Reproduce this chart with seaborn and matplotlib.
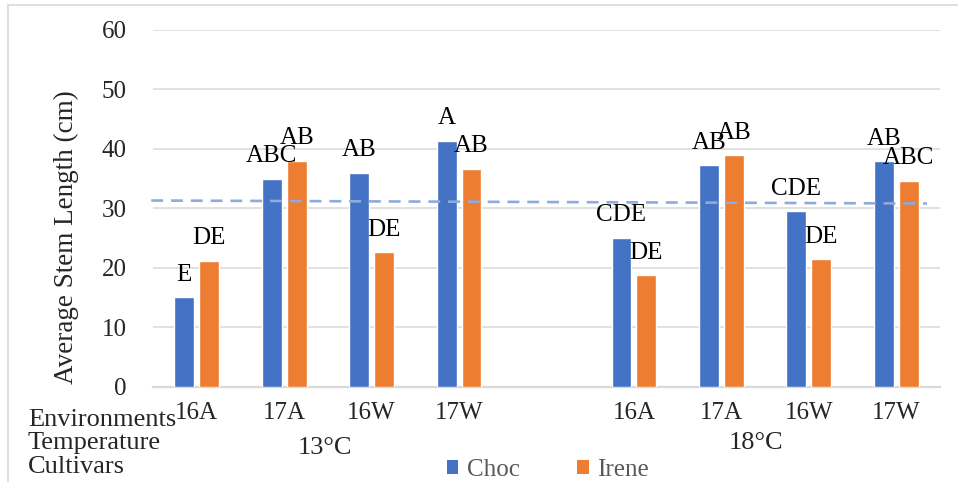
import matplotlib
matplotlib.use("Agg")
import matplotlib.pyplot as plt
from matplotlib.patches import Rectangle, Patch
import seaborn as sns
import pandas as pd

# Average stem length by temperature, environment and cultivar
temperatures = ["13°C", "18°C"]
environments = ["16A", "17A", "16W", "17W"]
cultivars = ["Choc", "Irene"]
choc_13 = [15.0, 35.0, 36.0, 41.3]
irene_13 = [21.1, 38.0, 22.6, 36.6]
choc_18 = [25.0, 37.2, 29.5, 37.9]
irene_18 = [18.7, 38.9, 21.4, 34.6]
letters_choc_13 = ["E", "ABC", "AB", "A"]
letters_irene_13 = ["DE", "AB", "DE", "AB"]
letters_choc_18 = ["CDE", "AB", "CDE", "AB"]
letters_irene_18 = ["DE", "AB", "DE", "ABC"]
trend_values = [31.3, 30.8]
y_ticks = [0, 10, 20, 30, 40, 50, 60]

BLUE = "#4472C4"
ORANGE = "#ED7D31"
GRID = "#D9D9D9"
SERIF = ["Liberation Serif", "DejaVu Serif"]

rows = []
series = {
    ("13°C", "Choc"): (choc_13, letters_choc_13),
    ("13°C", "Irene"): (irene_13, letters_irene_13),
    ("18°C", "Choc"): (choc_18, letters_choc_18),
    ("18°C", "Irene"): (irene_18, letters_irene_18),
}
for (temp, cult), (vals, lets) in series.items():
    for env, v, l in zip(environments, vals, lets):
        rows.append({"slot": f"{temp} {env}", "temp": temp, "env": env,
                     "cultivar": cult, "value": v, "letter": l})
df = pd.DataFrame(rows)

# 13°C group, one empty spacer slot, then the 18°C group
order = [f"13°C {e}" for e in environments] + [" "] + [f"18°C {e}" for e in environments]

sns.set_style("white")
plt.rcParams["font.family"] = SERIF

fig = plt.figure(figsize=(9.58, 4.82), dpi=100)
ax = fig.add_axes([153 / 958, 1 - 386.5 / 482, (940 - 153) / 958, (386.5 - 30) / 482])

sns.barplot(data=df, x="slot", y="value", hue="cultivar", order=order,
            hue_order=cultivars, palette=[BLUE, ORANGE], width=0.57, gap=0.2,
            saturation=1, errorbar=None, legend=False, ax=ax, zorder=3)

ax.set_xlim(-0.5, len(order) - 0.5)
ax.set_ylim(0, 60)
ax.set_yticks(y_ticks)
ax.set_yticklabels([str(t) for t in y_ticks], fontsize=18)
ax.yaxis.grid(True, color=GRID, lw=1.1, zorder=0)
ax.set_axisbelow(True)
for s in ["top", "right", "left"]:
    ax.spines[s].set_visible(False)
ax.spines["bottom"].set_color(GRID)
ax.spines["bottom"].set_linewidth(1.6)
ax.tick_params(axis="y", length=0, pad=19)
ax.tick_params(axis="x", length=0, pad=11)
ax.set_xticks(range(len(order)))
ax.set_xticklabels([o.split(" ")[1] if o.strip() else "" for o in order], fontsize=18)
ax.set_xlabel("")
ax.set_ylabel("")

# significance letters above every bar
lookup = {(r.slot, r.cultivar): r.letter for r in df.itertuples()}
for cult, cont in zip(cultivars, ax.containers):
    for bar in cont:
        cx = bar.get_x() + bar.get_width() / 2
        slot = order[int(round(cx))]
        letter = lookup.get((slot, cult))
        if letter:
            ax.annotate(letter, (cx, bar.get_height()), xytext=(0, 12),
                        textcoords="offset points", ha="center", va="baseline",
                        fontsize=18, color="black", zorder=5)

# dashed trend line across the plot
ax.plot([-0.52, 8.35], trend_values, color="#8FAADC", lw=1.9,
        dashes=(4.5, 3), clip_on=False, zorder=4)

# row captions below the axis
fig.text(28 / 958, 1 - 420 / 482, "Environments", fontsize=19, va="center", ha="left")
fig.text(28 / 958, 1 - 443 / 482, "Temperature", fontsize=19, va="center", ha="left")
fig.text(28 / 958, 1 - 467 / 482, "Cultivars", fontsize=19, va="center", ha="left")
tr = matplotlib.transforms.blended_transform_factory(ax.transData, fig.transFigure)
ax.text(1.47, 1 - 448 / 482, temperatures[0], transform=tr, fontsize=19,
        ha="center", va="center")
ax.text(6.40, 1 - 443 / 482, temperatures[1], transform=tr, fontsize=19,
        ha="center", va="center")

fig.text(66 / 958, 1 - 237 / 482, "Average Stem Length (cm)", rotation=90,
         fontsize=19.5, ha="center", va="center")

handles = [Patch(facecolor=BLUE, edgecolor="none"), Patch(facecolor=ORANGE, edgecolor="none")]
fig.legend(handles, cultivars, loc="center", bbox_to_anchor=(548 / 958, 1 - 470 / 482),
           ncol=2, frameon=False, prop={"family": SERIF, "size": 18},
           handlelength=0.45, handleheight=0.45,
           handletextpad=0.35, columnspacing=2.3, labelcolor="#595959",
           borderpad=0, borderaxespad=0)

# light outer chart border
fig.add_artist(Rectangle((8 / 958, -0.1), 1.2, 1 - 5 / 482 + 0.1,
                         transform=fig.transFigure, fill=False,
                         edgecolor=GRID, lw=1.2))

fig.savefig("out.png", dpi=100)
